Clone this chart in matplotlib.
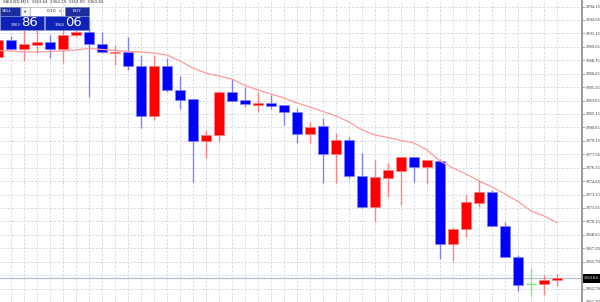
import matplotlib
matplotlib.use("Agg")
import matplotlib.pyplot as plt
from matplotlib.patches import Rectangle

# ---- data (XAUUSD, M15) ----
opens = [3388.49, 3390.41, 3389.41, 3389.86, 3390.16, 3389.38, 3390.97, 3391.34, 3389.97, 3389.00,
         3389.11, 3387.55, 3381.97, 3387.51, 3384.84, 3383.80, 3379.15, 3379.79, 3384.58, 3383.72,
         3383.20, 3383.42, 3383.13, 3382.42, 3379.93, 3380.79, 3377.70, 3379.23, 3375.30, 3371.82,
         3375.06, 3375.84, 3377.40, 3376.22, 3376.95, 3367.66, 3369.30, 3372.27, 3373.50, 3369.67,
         3366.18, 3363.18, 3363.17, 3363.64]
highs = [3390.64, 3390.89, 3391.53, 3391.53, 3391.01, 3391.75, 3391.75, 3392.64, 3391.31, 3389.86,
         3390.78, 3388.74, 3388.74, 3388.41, 3386.40, 3383.83, 3380.38, 3384.73, 3386.03, 3385.21,
         3384.64, 3384.28, 3383.17, 3382.86, 3381.30, 3381.68, 3380.01, 3379.56, 3377.78, 3376.98,
         3376.73, 3377.37, 3377.42, 3377.03, 3377.14, 3369.56, 3373.13, 3374.80, 3373.69, 3370.15,
         3366.44, 3364.99, 3364.21, 3364.29]
lows = [3388.18, 3389.30, 3388.11, 3388.93, 3388.37, 3387.82, 3390.78, 3384.02, 3388.96, 3387.63,
        3387.07, 3380.57, 3381.49, 3384.62, 3382.69, 3374.61, 3377.29, 3379.07, 3383.61, 3382.98,
        3382.42, 3382.69, 3380.93, 3378.89, 3378.89, 3374.50, 3374.43, 3374.99, 3371.68, 3370.12,
        3372.94, 3372.01, 3374.61, 3374.32, 3365.96, 3365.80, 3368.41, 3371.82, 3369.67, 3366.18,
        3362.43, 3361.81, 3361.92, 3363.00]
closes = [3390.41, 3389.38, 3389.97, 3390.19, 3389.38, 3390.97, 3391.36, 3389.97, 3389.04, 3389.11,
          3387.55, 3381.97, 3387.51, 3384.84, 3383.72, 3379.15, 3379.82, 3384.62, 3383.65, 3383.24,
          3383.39, 3383.09, 3382.42, 3379.96, 3380.74, 3377.70, 3379.23, 3375.28, 3371.82, 3375.10,
          3375.92, 3377.33, 3376.22, 3377.00, 3367.66, 3369.30, 3372.38, 3373.50, 3369.67, 3366.18,
          3363.13, 3363.18, 3363.64, 3363.84]
ma = [3389.24, 3389.19, 3389.08, 3389.08, 3389.13, 3389.19, 3389.30, 3389.47, 3389.36, 3389.24,
      3389.13, 3389.08, 3388.96, 3388.74, 3388.07, 3387.29, 3386.73, 3386.40, 3386.06, 3385.34,
      3384.84, 3384.39, 3383.95, 3383.39, 3382.94, 3382.44, 3381.94, 3381.27, 3380.38, 3379.82,
      3379.54, 3379.21, 3378.93, 3378.15, 3376.92, 3376.14, 3375.47, 3374.69, 3374.02, 3373.24,
      3372.40, 3371.34, 3370.79, 3370.04]
tick_labels = ["3394.15", "3392.65", "3391.15", "3389.65", "3388.15", "3386.65", "3385.15",
               "3383.65", "3382.15", "3380.65", "3379.15", "3377.65", "3376.15", "3374.65",
               "3373.15", "3371.65", "3370.15", "3368.65", "3367.20", "3365.70", "3364.20",
               "3362.70", "3361.20"]
symbol = "XAUUSD,M15"
last_price = "3363.84"
sell_big, sell_small = "86", "3363"
buy_big, buy_small = "06", "3364"
lot = "0.10"

W, H = 600, 302
fig = plt.figure(figsize=(W / 100, H / 100), dpi=100)
fig.patch.set_facecolor("white")
ax = fig.add_axes([0, 0, 582 / W, 1])
ax.set_facecolor("white")

n = len(opens)
xs = list(range(n))
ax.set_xlim(2 / 13, 584 / 13)
ax.set_ylim(3361.195, 3394.875)

# grid
tick_vals = [3394.15 - k * 1.4976 for k in range(len(tick_labels))]
grid_col = "#ccd3de"
for v in tick_vals:
    ax.axhline(v, color=grid_col, lw=0.55, ls=(0, (3, 2)), zorder=0)
for x in xs:
    ax.axvline(x, color=grid_col, lw=0.55, ls=(0, (3, 2)), zorder=0)

# price line
ax.axhline(float(last_price), color="#b4bcc8", lw=0.9, zorder=1)

# candles
for x, o, h, l, c in zip(xs, opens, highs, lows, closes):
    if c > o:
        body, wick = "#ff0000", "#ff8080"
    elif c < o:
        body, wick = "#0000ff", "#8080ff"
    else:
        body, wick = "#33dd33", "#77ee77"
    ax.vlines(x, l, h, color=wick, lw=1.0, zorder=2)
    if c != o:
        ax.bar(x, c - o, bottom=o, width=0.74, color=body,
               edgecolor=wick, linewidth=0.5, zorder=3)
    else:
        ax.hlines(o, x - 0.37, x + 0.37, color=wick, lw=1.0, zorder=3)

# moving average
ax.plot(xs, ma, color="#ff9a9a", lw=0.9, zorder=4)

# right axis
for s in ["top", "left", "bottom"]:
    ax.spines[s].set_visible(False)
ax.spines["right"].set_color("#8a8a8a")
ax.spines["right"].set_linewidth(1.2)
ax.yaxis.tick_right()
ax.set_yticks(tick_vals)
ax.set_yticklabels(tick_labels, fontsize=3.3, family="Liberation Serif", color="#303030")
ax.tick_params(axis="y", length=2, width=0.5, color="#8a8a8a", pad=1)
ax.set_xticks([])

# overlay in pixel coordinates for panel & labels
ov = fig.add_axes([0, 0, 1, 1], zorder=10)
ov.set_xlim(0, W)
ov.set_ylim(H, 0)
ov.axis("off")
ov.patch.set_alpha(0)

# header
ov.text(3, 2.2, symbol + "  " + "  ".join(f"{v:.2f}" for v in [opens[-1], highs[-1], lows[-1], closes[-1]]),
        fontsize=2.8, color="#303030", va="center", ha="left", family="DejaVu Sans")

# trade panel
navy = "#1c2c9c"
ov.add_patch(Rectangle((0, 7), 20, 8.5, facecolor=navy, edgecolor="#6070c0", lw=0.4))
ov.text(6.5, 11.3, "SELL", fontsize=3.2, color="white", va="center", ha="center")
ov.add_patch(Rectangle((21, 7), 9, 8.5, facecolor="#f4f4f4", edgecolor="#a0a0a0", lw=0.4))
ov.text(25.5, 11.3, "▾", fontsize=3.2, color="#303030", va="center", ha="center")
ov.add_patch(Rectangle((30, 7), 31, 8.5, facecolor="white", edgecolor="#a0a0a0", lw=0.4))
ov.text(56, 11.3, lot, fontsize=3.2, color="#202020", va="center", ha="right")
ov.text(59.5, 11.3, "▾", fontsize=2.5, color="#303030", va="center", ha="center")
ov.add_patch(Rectangle((65, 7), 24, 8.5, facecolor=navy, edgecolor="#6070c0", lw=0.4))
ov.text(77, 11.3, "BUY", fontsize=3.2, color="white", va="center", ha="center")

ov.add_patch(Rectangle((0, 16), 44, 13.5, facecolor="#0f22b8", edgecolor="#8090d8", lw=0.5))
ov.add_patch(Rectangle((45, 16), 44, 13.5, facecolor="#0f22b8", edgecolor="#8090d8", lw=0.5))
ov.text(16, 25.5, sell_small, fontsize=2.8, color="white", va="center", ha="center")
ov.text(30, 22.5, sell_big, fontsize=9.5, color="white", va="center", ha="center")
ov.text(59.5, 25.5, buy_small, fontsize=2.8, color="white", va="center", ha="center")
ov.text(73, 22.5, buy_big, fontsize=9.5, color="white", va="center", ha="center")

# current price box on axis
py = (3394.875 - float(last_price)) / (3394.875 - 3361.195) * H
ov.add_patch(Rectangle((583, py - 4.5), 17, 9, facecolor="black", edgecolor="none"))
ov.text(591.5, py, last_price, fontsize=3.3, color="white", va="center", ha="center",
        family="Liberation Serif")

fig.savefig("out.png", dpi=100, facecolor="white")
